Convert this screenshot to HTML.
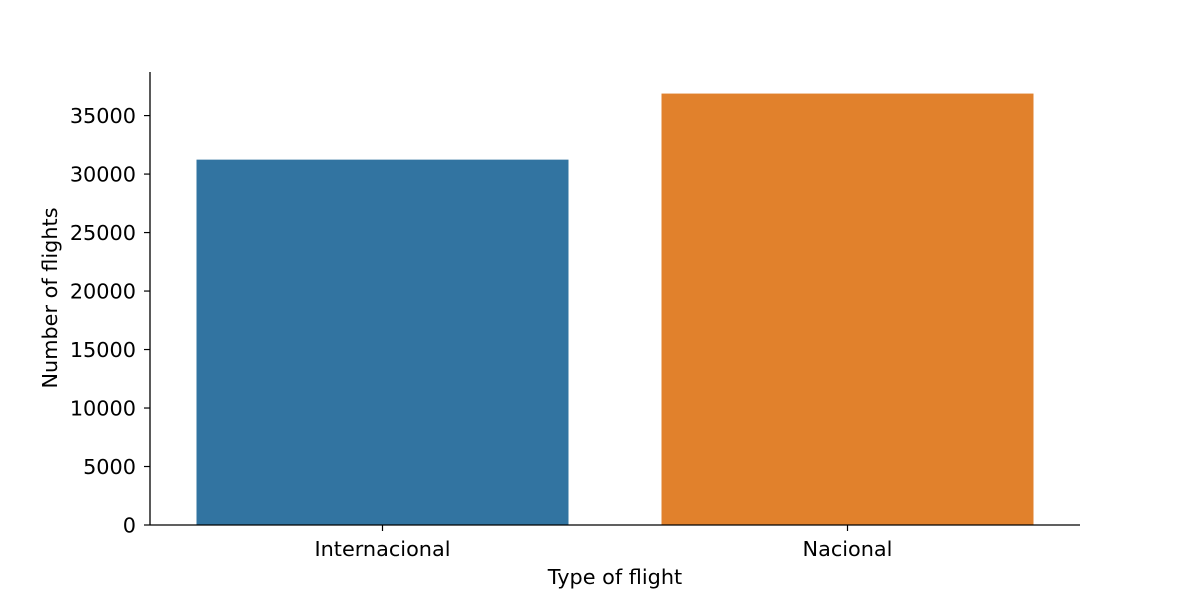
<!DOCTYPE html>
<html><head><meta charset="utf-8"><style>
body{margin:0;background:#fff}
svg text{font-family:"DejaVu Sans","Liberation Sans",sans-serif;fill:#000}
</style></head><body>
<svg id="chart" width="1200" height="600">
<g id="plot"></g>
</svg>
<script>
const categories = ["Internacional", "Nacional"];
const values = [31234, 36882];
const colors = ["#3274a1", "#e1812c"];
const yTicks = [0, 5000, 10000, 15000, 20000, 25000, 30000, 35000];

const L = 150, R = 1080, B = 525, T = 72;
const FS = 20.8;
const yMax = Math.max(...values) * 1.05;
const y = v => B - (v / yMax) * (B - T);
const bw = (R - L) / categories.length;
const x = i => L + bw * (i + 0.5);
const ns = "http://www.w3.org/2000/svg";
const g = document.getElementById('plot');
function mk(tag, attrs, text) {
  const e = document.createElementNS(ns, tag);
  for (const k in attrs) e.setAttribute(k, attrs[k]);
  if (text !== undefined) e.textContent = text;
  g.appendChild(e);
  return e;
}
categories.forEach((c, i) => {
  const r = mk('rect', {x: x(i) - bw * 0.4, y: y(values[i]), width: bw * 0.8, height: B - y(values[i]), fill: colors[i]});
  
  
  const t = mk('line', {x1: x(i), x2: x(i), y1: B, y2: B + 6, stroke: '#000', 'stroke-width': 1.2});
  
  
  const l = mk('text', {x: x(i), y: B + 31, 'text-anchor': 'middle', 'font-size': FS}, c);
  
  
});
yTicks.forEach(v => {
  const t = mk('line', {x1: L - 6, x2: L, y1: y(v), y2: y(v), stroke: '#000', 'stroke-width': 1.2});
  
  
  const l = mk('text', {x: L - 14, y: y(v) + 7.5, 'text-anchor': 'end', 'font-size': FS}, v);
  
  
});
const ya = mk('line', {x1: L, x2: L, y1: T, y2: B, stroke: '#000', 'stroke-width': 1.3});


const xa = mk('line', {x1: L, x2: R, y1: B, y2: B, stroke: '#000', 'stroke-width': 1.3});


const xt = mk('text', {x: (L + R) / 2, y: 584, 'text-anchor': 'middle', 'font-size': FS}, 'Type of flight');


const yt = mk('text', {x: 0, y: 0, transform: 'translate(57,298) rotate(-90)', 'text-anchor': 'middle', 'font-size': FS}, 'Number of flights');


</script>
</body></html>
